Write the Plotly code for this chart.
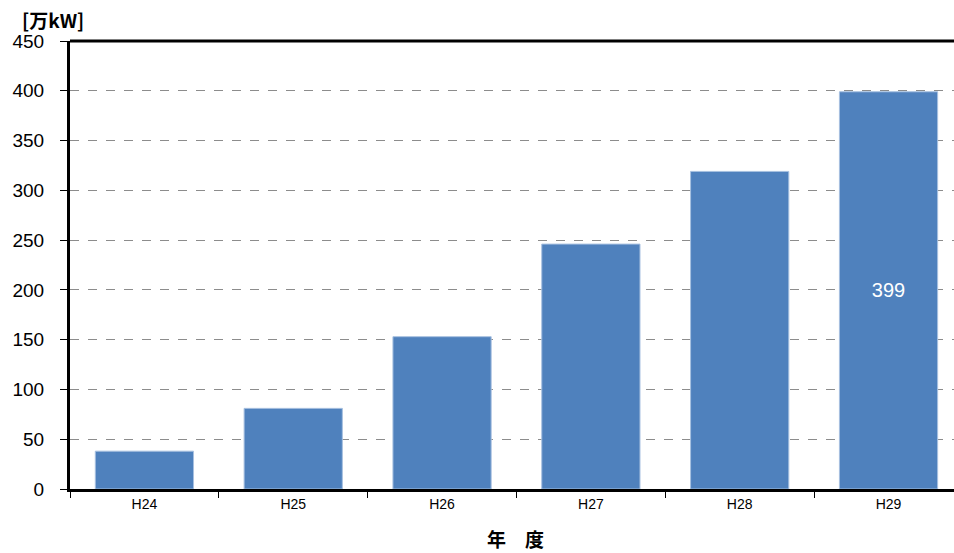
import plotly.graph_objects as go

categories = ["H24", "H25", "H26", "H27", "H28", "H29"]
values = [38, 81, 153, 246, 319, 399]
bar_labels = ["", "", "", "", "", "399"]
y_ticks = [0, 50, 100, 150, 200, 250, 300, 350, 400, 450]

W, H = 954, 553
L, T, B = 70, 41, 64
PW, PH = W - L, H - T - B

fig = go.Figure()
fig.add_trace(go.Bar(
    x=categories, y=values,
    text=bar_labels, textposition="inside", insidetextanchor="middle",
    textfont=dict(color="white", size=20, family="Liberation Sans, Arial"),
    marker=dict(color="#4F81BD", line=dict(color="#A7C0E0", width=1)),
    width=0.66, cliponaxis=False, hoverinfo="skip",
))

fig.update_layout(
    width=W, height=H,
    margin=dict(l=L, r=0, t=T, b=B),
    paper_bgcolor="white", plot_bgcolor="white",
    showlegend=False,
    font=dict(family="Liberation Sans, Arial, Noto Sans CJK JP", color="black"),
    xaxis=dict(
        range=[-0.5, 5.44],
        showline=True, linecolor="black", linewidth=3,
        ticks="outside", tickson="boundaries", ticklen=6, tickcolor="black", tickwidth=1,
        tickfont=dict(size=14, family="Liberation Sans, Arial"),
        showgrid=False, zeroline=False,
    ),
    yaxis=dict(
        range=[0, 450], tickvals=y_ticks,
        showline=True, linecolor="black", linewidth=3,
        ticks="outside", ticklen=7, tickcolor="black", tickwidth=1,
        tickfont=dict(size=19, family="Liberation Sans, Arial"),
        ticklabelstandoff=12,
        showgrid=True, gridcolor="#8C8C8C", griddash="dash", gridwidth=1,
        zeroline=False,
    ),
    bargap=0.34,
)

# top frame line
fig.add_shape(type="line", xref="paper", yref="paper", x0=0, x1=1, y0=1, y1=1,
              line=dict(color="black", width=3))

fig.add_annotation(text="<b>[万kW]</b>", xref="paper", yref="paper",
                   x=-(70 - 20) / PW, y=1 + (41 - 19) / PH, xanchor="left", yanchor="middle",
                   showarrow=False,
                   font=dict(size=19, family="Noto Sans CJK JP, Liberation Sans", color="black"))
fig.add_annotation(text="<b>年　度</b>", xref="paper", yref="paper",
                   x=(515 - 70) / PW, y=-(538 - 489) / PH,
                   xanchor="center", yanchor="middle", showarrow=False,
                   font=dict(size=19, family="Noto Sans CJK JP", color="black"))

fig.write_html(
    "out.html",
    config={"displayModeBar": False},
    post_script="document.body.style.margin='0';document.body.style.overflow='hidden';",
)
